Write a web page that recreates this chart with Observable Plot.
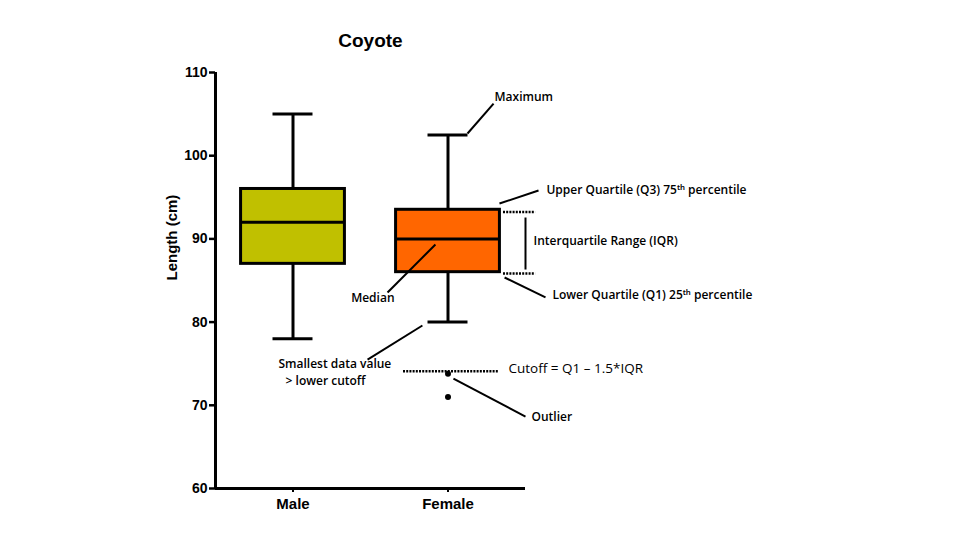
<!DOCTYPE html>
<html>
<head>
<meta charset="utf-8">
<script src="https://cdn.jsdelivr.net/npm/d3@7"></script>
<script src="https://cdn.jsdelivr.net/npm/@observablehq/plot@0.6"></script>
<style>
  html, body { margin: 0; padding: 0; background: white; }
</style>
</head>
<body>
<div id="chart"></div>
<script>
// ---- data ----
const title = "Coyote";
const yLabel = "Length (cm)";
const groups = ["Male", "Female"];
const groupPos = [0.5, 1.5];
const mins = [78, 80];
const q1s = [87, 86];
const medians = [92, 90];
const q3s = [96, 93.5];
const maxs = [105, 102.5];
const boxColors = ["#c0c000", "#ff6600"];
const outlierGroups = ["Female", "Female"];
const outlierValues = [73.8, 71];
const yTicks = [60, 70, 80, 90, 100, 110];

// annotation texts (positions in data units)
const annoStartText = ["Maximum", "Upper Quartile (Q3) 75ᵗʰ percentile", "Interquartile Range (IQR)",
  "Lower Quartile (Q1) 25ᵗʰ percentile", "Smallest data value", " > lower cutoff", "Outlier"];
const annoStartX = [1.80, 2.135, 2.052, 2.174, 0.406, 0.432, 2.039];
const annoStartY = [107.0, 95.82, 89.69, 83.2, 74.9, 72.86, 68.53];
const medianLabel = "Median";
const medianLabelX = 1.155;
const medianLabelY = 82.84;
const cutoffText = "Cutoff = Q1 – 1.5*IQR";
const cutoffX = 1.89;
const cutoffY = 74.42;

// leader lines
const leadX1 = [1.626, 1.832, 1.865, 1.110, 0.981, 1.535, 2.0];
const leadY1 = [102.67, 94.25, 85.36, 83.56, 75.5, 73.22, 92.57];
const leadX2 = [1.794, 2.084, 2.129, 1.419, 1.335, 2.0, 2.0];
const leadY2 = [106.27, 95.82, 82.96, 89.33, 79.59, 68.65, 86.32];
const leadW = [2, 2, 2, 2, 2, 2, 2];

// dotted reference lines
const dotX1 = [1.858, 1.858, 1.213];
const dotX2 = [2.065, 2.065, 1.832];
const dotY = [93.23, 85.84, 74.1];

// ---- tables ----
const boxes = groups.map((g, i) => ({
  group: g, pos: groupPos[i], min: mins[i], q1: q1s[i], median: medians[i], q3: q3s[i], max: maxs[i], color: boxColors[i]
}));
const outliers = outlierGroups.map((g, i) => ({ pos: groupPos[groups.indexOf(g)], value: outlierValues[i] }));
const startTexts = annoStartText.map((t, i) => ({ t, x: annoStartX[i], y: annoStartY[i] }));
const leaders = leadX1.map((x1, i) => ({ x1, y1: leadY1[i], x2: leadX2[i], y2: leadY2[i], w: leadW[i] }));
const dotted = dotX1.map((x1, i) => ({ x1, x2: dotX2[i], y: dotY[i] }));

const boxHalf = 0.335;
const capHalf = 0.129;
const annoFont = "Open Sans, Noto Sans, sans-serif";

const chart = Plot.plot({
  width: 960,
  height: 540,
  marginLeft: 215,
  marginRight: 435,
  marginTop: 72,
  marginBottom: 52,
  style: { fontFamily: "Liberation Sans, Arial, sans-serif", background: "white", color: "black" },
  x: { domain: [0, 2] },
  y: { domain: [60, 110] },
  marks: [
    // axes
    Plot.axisY({ ticks: yTicks, tickSize: 6, tickPadding: 2, strokeWidth: 2.5, fontSize: 14, fontWeight: "bold", label: null }),
    Plot.axisX({ ticks: groupPos, tickFormat: d => groups[groupPos.indexOf(d)], tickSize: 4, tickPadding: 6, strokeWidth: 2, fontSize: 15, fontWeight: "bold", label: null }),
    Plot.ruleX([0], { y1: 60, y2: 110, strokeWidth: 3 }),
    Plot.ruleY([60], { x1: 0, x2: 2, strokeWidth: 3 }),
    Plot.text([yLabel], { frameAnchor: "left", dx: -43, rotate: -90, fontSize: 15, fontWeight: "bold" }),
    Plot.text([title], { frameAnchor: "top", dy: -32, lineAnchor: "middle", fontSize: 19, fontWeight: "bold" }),
    // whiskers
    Plot.ruleX(boxes, { x: "pos", y1: "min", y2: "q1", strokeWidth: 3 }),
    Plot.ruleX(boxes, { x: "pos", y1: "q3", y2: "max", strokeWidth: 3 }),
    Plot.ruleY(boxes, { y: "min", x1: d => d.pos - capHalf, x2: d => d.pos + capHalf, strokeWidth: 3 }),
    Plot.ruleY(boxes, { y: "max", x1: d => d.pos - capHalf, x2: d => d.pos + capHalf, strokeWidth: 3 }),
    // boxes
    Plot.rect(boxes, { x1: d => d.pos - boxHalf, x2: d => d.pos + boxHalf, y1: "q1", y2: "q3", fill: "color", stroke: "black", strokeWidth: 3 }),
    Plot.ruleY(boxes, { y: "median", x1: d => d.pos - boxHalf, x2: d => d.pos + boxHalf, strokeWidth: 3 }),
    // outliers
    Plot.dot(outliers, { x: "pos", y: "value", r: 3, fill: "black" }),
    // annotations
    Plot.link(leaders, { x1: "x1", y1: "y1", x2: "x2", y2: "y2", strokeWidth: 2 }),
    Plot.ruleY(dotted, { y: "y", x1: "x1", x2: "x2", strokeWidth: 2.5, strokeDasharray: "2,1.2" }),
    Plot.text(startTexts, { x: "x", y: "y", text: "t", textAnchor: "start", fontSize: 12, fontFamily: annoFont, fontWeight: 600 }),
    Plot.text([medianLabel], { x: medianLabelX, y: medianLabelY, textAnchor: "end", fontSize: 12, fontFamily: annoFont, fontWeight: 600 }),
    Plot.text([cutoffText], { x: cutoffX, y: cutoffY, textAnchor: "start", fontSize: 13.5, fontFamily: annoFont })
  ]
});
document.getElementById("chart").append(chart);
</script>
</body>
</html>
